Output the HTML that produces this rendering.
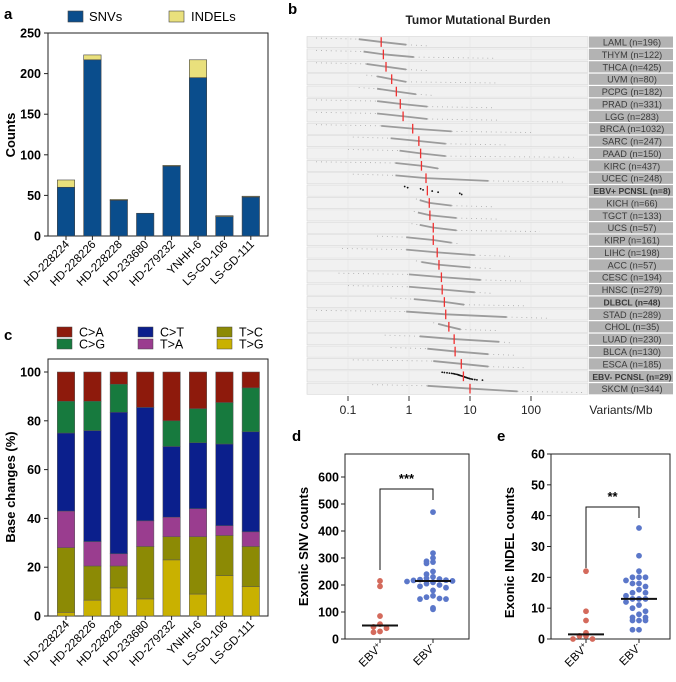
<!DOCTYPE html>
<html><head><meta charset="utf-8"><style>
body{margin:0;background:#fff}
svg{display:block;font-family:"Liberation Sans",Arial,sans-serif}
</style></head><body>
<svg id="fig" width="676" height="682" viewBox="0 0 676 682" xmlns="http://www.w3.org/2000/svg">
<rect width="676" height="682" fill="#fff"/>
<g id="pa"></g>
<g id="pb"></g>
<g id="pc"></g>
<g id="pd"></g>
<g id="pe"></g>
</svg>
<script>
// ---------- data ----------
const samples = ["HD-228224","HD-228226","HD-228228","HD-233680","HD-279232","YNHH-6","LS-GD-106","LS-GD-111"];
const snvCounts = [60,217,44,28,86,195,24,48];
const indelCounts = [9,6,1,0,1,22,1,1];
const countTicks = [0,50,100,150,200,250];

const baseNames = ["T>G","T>C","T>A","C>T","C>G","C>A"];
const baseColors = ["#c9b100","#8c8a05","#9a3d8f","#0b1f8c","#177a3e","#8e1a0c"];
const pctTG = [1.5,6.5,11.5,7,23,9,16.5,12];
const pctTC = [26.5,14,9,21.5,9.5,23.5,16.5,16.5];
const pctTA = [15,10,5,10.5,8,11.5,4,6];
const pctCT = [32,45.5,58,46.5,29,27,33.5,41];
const pctCG = [13,12,11.5,0,10.5,14,17,18];
const pctCA = [12,12,5,14.5,20,15,12.5,6.5];
const pctTicks = [0,20,40,60,80,100];

const cohorts = ["LAML (n=196)","THYM (n=122)","THCA (n=425)","UVM (n=80)","PCPG (n=182)","PRAD (n=331)","LGG (n=283)","BRCA (n=1032)","SARC (n=247)","PAAD (n=150)","KIRC (n=437)","UCEC (n=248)","EBV+ PCNSL (n=8)","KICH (n=66)","TGCT (n=133)","UCS (n=57)","KIRP (n=161)","LIHC (n=198)","ACC (n=57)","CESC (n=194)","HNSC (n=279)","DLBCL (n=48)","STAD (n=289)","CHOL (n=35)","LUAD (n=230)","BLCA (n=130)","ESCA (n=185)","EBV- PCNSL (n=29)","SKCM (n=344)"];
const boldCohorts = ["EBV+ PCNSL (n=8)","DLBCL (n=48)","EBV- PCNSL (n=29)"];
const tmbMin = [0.03,0.03,0.03,0.2,0.15,0.03,0.03,0.03,0.12,0.1,0.03,0.12,0.85,1.3,1.2,1.1,0.3,0.08,1.3,0.07,0.1,0.5,0.03,2.5,0.4,0.5,0.12,3.5,0.25];
const tmbQ10 = [0.15,0.18,0.2,0.3,0.3,0.3,0.3,0.35,0.5,0.7,0.6,0.6,0.9,1.5,1.4,1.5,0.9,0.9,1.6,1.0,1.0,1.2,0.9,3,1.5,2,2.5,5,2];
const tmbMed = [0.35,0.38,0.42,0.52,0.62,0.72,0.8,1.15,1.45,1.55,1.6,1.9,2.0,2.15,2.2,2.5,2.5,2.9,3.1,3.4,3.5,3.8,4.0,4.5,5.5,5.7,7.2,7.8,10];
const tmbQ90 = [0.9,1.2,0.9,0.9,1.3,2,2,5,4,4,3,20,7,5,6,6,5,12,10,15,12,8,40,7,30,20,20,12,60];
const tmbMax = [2,25,2,30,2.5,25,30,100,40,500,3.5,350,7.5,25,30,140,7,45,25,70,25,80,200,30,50,60,80,16,700];
const ebvPosTmb = [0.85,0.95,1.55,1.7,2.4,3.0,6.8,7.3];
const ebvNegTmb = [3.5,3.8,4.2,4.6,5,5.3,5.6,5.9,6.2,6.4,6.6,6.8,7,7.3,7.6,7.8,8,8.2,8.5,8.8,9,9.3,9.7,10,10.5,11,12,13,16];
const tmbTicks = [0.1,1,10,100];

const snvEbvPos = [215,195,85,55,45,40,25,28];
const snvEbvNeg = [470,318,300,288,285,280,250,240,230,225,222,220,218,217,215,213,210,205,200,195,190,180,160,155,150,148,148,115,110];
const snvTicks = [0,100,200,300,400,500,600];
const indelEbvPos = [22,9,6,2,1,1,0,0];
const indelEbvNeg = [36,27,22,20,20,20,19,18,18,17,16,15,15,14,13,13,13,12,11,10,9,8,7,7,6,6,6,3,3];
const indelTicks = [0,10,20,30,40,50,60];

// ---------- helpers ----------
const NS="http://www.w3.org/2000/svg";
function el(parent,tag,attrs,text){const e=document.createElementNS(NS,tag);for(const k in attrs)e.setAttribute(k,attrs[k]);if(text!==undefined)e.textContent=text;parent.appendChild(e);return e;}
function median(a){const s=[...a].sort((x,y)=>x-y);const n=s.length;return n%2?s[(n-1)/2]:(s[n/2-1]+s[n/2])/2;}

const sampleX = i => 66 + i*26.4;

// ---------- panel a ----------
(function(){
const g=document.getElementById('pa');
const y=v=>236-v*203/250;
let t=el(g,'text',{x:4,y:19,'font-size':15,'font-weight':'bold'},'a');

let r=el(g,'rect',{x:68,y:11,width:15,height:11,fill:'#0a4d8c',stroke:'#444','stroke-width':0.6});

t=el(g,'text',{x:89,y:21,'font-size':13},'SNVs');

r=el(g,'rect',{x:169,y:11,width:15,height:11,fill:'#e9e07c',stroke:'#444','stroke-width':0.6});

t=el(g,'text',{x:191,y:21,'font-size':13},'INDELs');

const fr=el(g,'rect',{x:48,y:33,width:220,height:203,fill:'none',stroke:'#222','stroke-width':1});

countTicks.forEach(v=>{
 const l=el(g,'line',{x1:44,x2:48,y1:y(v),y2:y(v),stroke:'#222'});
 
 const tx=el(g,'text',{x:41,y:y(v)+4.5,'font-size':12.5,'font-weight':'bold','text-anchor':'end'},v);
 
});
t=el(g,'text',{transform:'translate(15,135) rotate(-90)','font-size':13,'font-weight':'bold','text-anchor':'middle'},'Counts');

samples.forEach((s,i)=>{
 const cx=sampleX(i);
 const b1=el(g,'rect',{x:cx-8.7,y:y(snvCounts[i]),width:17.4,height:y(0)-y(snvCounts[i]),fill:'#0a4d8c',stroke:'#444','stroke-width':0.6});
 
 if(indelCounts[i]>0){
  const tot=snvCounts[i]+indelCounts[i];
  const b2=el(g,'rect',{x:cx-8.7,y:y(tot),width:17.4,height:y(snvCounts[i])-y(tot),fill:'#e9e07c',stroke:'#444','stroke-width':0.6});
  
 }
 const tk=el(g,'line',{x1:cx,x2:cx,y1:236,y2:240,stroke:'#222'});
 
 const lb=el(g,'text',{transform:`translate(${cx+4},${245}) rotate(-45)`,'font-size':11.5,'text-anchor':'end'},s);
 
});
})();

// ---------- panel b ----------
(function(){
const g=document.getElementById('pb');
const X=v=>409+61*Math.log10(v);
const top0=36,rowH=12.38;
let t=el(g,'text',{x:288,y:14,'font-size':15,'font-weight':'bold'},'b');

t=el(g,'text',{x:478,y:24,'font-size':12,'font-weight':'bold','text-anchor':'middle',fill:'#222'},'Tumor Mutational Burden');

cohorts.forEach((c,i)=>{
 const ty=top0+i*rowH;
 const bg=el(g,'rect',{x:307,y:ty+0.5,width:281,height:rowH-1.2,fill:'#f1f1f1',stroke:'#d6d6d6','stroke-width':0.6});
 
 tmbTicks.forEach(v=>{
  const gl=el(g,'line',{x1:X(v),x2:X(v),y1:ty+0.8,y2:ty+rowH-1,stroke:'#e4e4e4','stroke-width':0.6});
  
 });
 const lb=el(g,'rect',{x:589,y:ty+0.5,width:84,height:rowH-1.2,fill:'#b3b3b3'});
 
 const bold=boldCohorts.includes(c);
 const tx=el(g,'text',{x:632,y:ty+rowH/2+3.3,'font-size':bold?8.6:9.2,'font-weight':bold?'bold':'normal','text-anchor':'middle',fill:'#3a3a3a'},c);
 
 const y0=ty+2,y1=ty+rowH-2.5;
 if(c.startsWith('EBV')){
  const pts=c.startsWith('EBV+')?ebvPosTmb:ebvNegTmb;
  pts.forEach((v,k)=>{
   const d=el(g,'circle',{cx:X(v),cy:y0+(y1-y0)*k/(pts.length-1),r:0.9,fill:'#111'});
   
  });
 } else {
  const q=[tmbMin[i],tmbQ10[i],tmbMed[i],tmbQ90[i],tmbMax[i]];
  const f=[0,0.15,0.5,0.85,1];
  const p1=el(g,'polyline',{points:[0,1].map(k=>`${X(q[k])},${y0+(y1-y0)*f[k]}`).join(' '),fill:'none',stroke:'#aaa','stroke-width':0.9,'stroke-dasharray':'0.9 4'});
  
  const p2=el(g,'polyline',{points:[1,2,3].map(k=>`${X(q[k])},${y0+(y1-y0)*f[k]}`).join(' '),fill:'none',stroke:'#9c9c9c','stroke-width':1.8});
  
  const p3=el(g,'polyline',{points:[3,4].map(k=>`${X(q[k])},${y0+(y1-y0)*f[k]}`).join(' '),fill:'none',stroke:'#aaa','stroke-width':0.9,'stroke-dasharray':'0.9 4'});
  
 }
 const m=el(g,'line',{x1:X(tmbMed[i]),x2:X(tmbMed[i]),y1:ty+1.2,y2:ty+rowH-1.5,stroke:'#f03030','stroke-width':1.3});
 
});
tmbTicks.forEach(v=>{
 const l=el(g,'line',{x1:X(v),x2:X(v),y1:396,y2:401,stroke:'#333'});
 
 const tx=el(g,'text',{x:X(v),y:414,'font-size':12,'text-anchor':'middle',fill:'#222'},v);
 
});
t=el(g,'text',{x:621,y:414,'font-size':12,'text-anchor':'middle',fill:'#222'},'Variants/Mb');

})();

// ---------- panel c ----------
(function(){
const g=document.getElementById('pc');
const y=v=>616-v*2.44;
let t=el(g,'text',{x:4,y:340,'font-size':15,'font-weight':'bold'},'c');

const legOrder=[[5,57,332],[3,138,332],[1,217,332],[4,57,344],[2,138,344],[0,217,344]];
legOrder.forEach(([k,x,yy])=>{
 const r=el(g,'rect',{x:x,y:yy-5,width:15,height:10,fill:baseColors[k],stroke:'#444','stroke-width':0.5});
 
 const tx=el(g,'text',{x:x+22,y:yy+4.5,'font-size':12.5},baseNames[k]);
 
});
const fr=el(g,'rect',{x:48,y:359,width:220,height:257,fill:'none',stroke:'#222','stroke-width':1});

pctTicks.forEach(v=>{
 const l=el(g,'line',{x1:44,x2:48,y1:y(v),y2:y(v),stroke:'#222'});
 
 const tx=el(g,'text',{x:41,y:y(v)+4.5,'font-size':12.5,'font-weight':'bold','text-anchor':'end'},v);
 
});
t=el(g,'text',{transform:'translate(15,487) rotate(-90)','font-size':13,'font-weight':'bold','text-anchor':'middle'},'Base changes (%)');

const series=[pctTG,pctTC,pctTA,pctCT,pctCG,pctCA];
samples.forEach((s,i)=>{
 const cx=sampleX(i);let cum=0;
 series.forEach((arr,k)=>{
  const v=arr[i];
  if(v>0){
   const b=el(g,'rect',{x:cx-8.7,y:y(cum+v),width:17.4,height:y(cum)-y(cum+v),fill:baseColors[k],stroke:'#555','stroke-width':0.5});
   
  }
  cum+=v;
 });
 const tk=el(g,'line',{x1:cx,x2:cx,y1:616,y2:620,stroke:'#222'});
 
 const lb=el(g,'text',{transform:`translate(${cx+4},${625}) rotate(-45)`,'font-size':11.5,'text-anchor':'end'},s);
 
});
})();

// ---------- dot plots ----------
function dotPanel(gid,letter,lx,left,right,top,topTickY,topTickV,ticks,ylab,posArr,negArr,stars,brY,brTop,binW){
 const g=document.getElementById(gid);
 const bottom=639;
 const y=v=>bottom-v*(bottom-topTickY)/topTickV;
 let t=el(g,'text',{x:lx,y:441,'font-size':15,'font-weight':'bold'},letter);
 
 const fr=el(g,'rect',{x:left,y:top,width:right-left,height:bottom-top,fill:'none',stroke:'#222','stroke-width':1});
 
 ticks.forEach(v=>{
  const l=el(g,'line',{x1:left-4,x2:left,y1:y(v),y2:y(v),stroke:'#222'});
  
  const tx=el(g,'text',{x:left-6,y:y(v)+4.5,'font-size':12.5,'font-weight':'bold','text-anchor':'end'},v);
  
 });
 t=el(g,'text',{transform:`translate(${left-37},${(top+bottom)/2+ (letter==='d'?0:6)}) rotate(-90)`,'font-size':13,'font-weight':'bold','text-anchor':'middle'},ylab);
 
 const gx=[left+35,left+88];
 const groups=[[posArr,'#d46a5c','EBV+'],[negArr,'#5b77c9','EBV-']];
 const br=el(g,'polyline',{points:`${gx[0]},${brY} ${gx[0]},${brTop} ${gx[1]},${brTop} ${gx[1]},${brTop+11}`,fill:'none',stroke:'#111','stroke-width':1});
 
 t=el(g,'text',{x:(gx[0]+gx[1])/2,y:brTop-6,'font-size':13,'font-weight':'bold','text-anchor':'middle'},stars);
 
 groups.forEach(([arr,col,name],gi)=>{
  const sorted=[...arr].sort((a,b)=>b-a);
  const bins={};
  sorted.forEach(v=>{
   const b=Math.round(v/binW);bins[b]=(bins[b]||0)+1;const n=bins[b];
   const off=((n%2?1:-1)*Math.floor(n/2))*6.5;
   const d=el(g,'circle',{cx:gx[gi]+off,cy:y(v),r:2.9,fill:col});
   
  });
  const m=median(arr);
  const ml=el(g,'line',{x1:gx[gi]-18,x2:gx[gi]+18,y1:y(m),y2:y(m),stroke:'#111','stroke-width':2});
  
  const tk=el(g,'line',{x1:gx[gi],x2:gx[gi],y1:bottom,y2:bottom+4,stroke:'#222'});
  
  const lb=el(g,'text',{transform:`translate(${gx[gi]+3},${bottom+9}) rotate(-45)`,'font-size':11.5,'text-anchor':'end'});
  
  lb.appendChild(document.createTextNode('EBV'));
  el(lb,'tspan',{'font-size':8,dy:-4},gi===0?'+':'-');
 });
}
dotPanel('pd','d',292,345,469,454,477,600,snvTicks,'Exonic SNV counts',snvEbvPos,snvEbvNeg,'***',570,489,25);
dotPanel('pe','e',497,551,670,454,454,60,indelTicks,'Exonic INDEL counts',indelEbvPos,indelEbvNeg,'**',568,507,2.5);
</script>
</body></html>
